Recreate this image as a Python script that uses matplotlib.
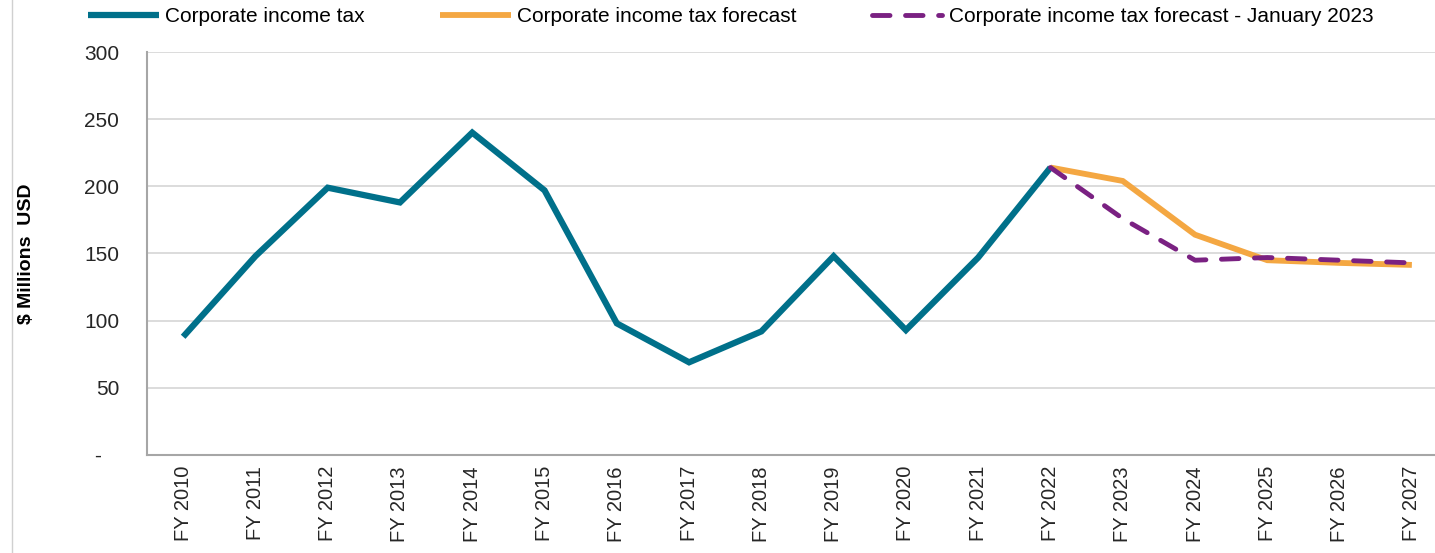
import matplotlib.pyplot as plt
from matplotlib.lines import Line2D

plt.rcParams["font.family"] = ["Liberation Sans", "DejaVu Sans"]

years = ["FY 2010", "FY 2011", "FY 2012", "FY 2013", "FY 2014", "FY 2015",
         "FY 2016", "FY 2017", "FY 2018", "FY 2019", "FY 2020", "FY 2021",
         "FY 2022", "FY 2023", "FY 2024", "FY 2025", "FY 2026", "FY 2027"]

# actuals FY2010..FY2022
actual = [88, 148, 199, 188, 240, 197, 98, 69, 92, 148, 93, 147, 214]
# forecasts FY2022..FY2027
forecast = [214, 204, 164, 145, 143, 141.5]
forecast_jan23 = [214, 176, 145, 147, 145, 143]

y_ticks = [0, 50, 100, 150, 200, 250, 300]
y_tick_labels = ["-   ", "50", "100", "150", "200", "250", "300"]

teal = "#00708A"
orange = "#F4A742"
purple = "#7A2182"

fig = plt.figure(figsize=(14.35, 5.53), dpi=100)
ax = fig.add_axes([147 / 1435, 1 - 455 / 553, 1301 / 1435, 403 / 553])

x_act = list(range(len(actual)))
x_fc = list(range(len(actual) - 1, len(years)))

ax.plot(x_act, actual, color=teal, lw=4.5, solid_joinstyle="miter",
        solid_capstyle="butt", label="Corporate income tax", zorder=3)
ax.plot(x_fc, forecast, color=orange, lw=4.2, solid_joinstyle="miter",
        solid_capstyle="butt", label="Corporate income tax forecast", zorder=2)
ax.plot(x_fc, forecast_jan23, color=purple, lw=3.5, dashes=(3.6, 3.2),
        dash_capstyle="round", label="Corporate income tax forecast - January 2023",
        zorder=4)

ax.set_xlim(-0.5, len(years) - 0.5)
ax.set_ylim(0, 300)
ax.set_xticks(range(len(years)))
ax.set_xticklabels(years, rotation=90, fontsize=14.5, va="top", ha="center")
ax.set_yticks(y_ticks)
ax.set_yticklabels(y_tick_labels, fontsize=15)
ax.tick_params(axis="both", length=0, colors="#262626")
ax.tick_params(axis="y", pad=20)
ax.tick_params(axis="x", pad=8)

ax.yaxis.grid(True, color="#D9D9D9", lw=1.3)
ax.set_axisbelow(True)
for s in ["top", "right"]:
    ax.spines[s].set_visible(False)
for s in ["left", "bottom"]:
    ax.spines[s].set_color("#A6A6A6")
    ax.spines[s].set_linewidth(1.5)

ax.set_ylabel("$ Millions  USD", fontsize=14, fontweight="bold")
ax.yaxis.set_label_coords(-112 / 1301, 0.5)

fig.legend(loc="center left", bbox_to_anchor=(80 / 1435, 1 - 17 / 553), ncol=3,
           frameon=False, fontsize=15, handlelength=3.4, handletextpad=0.3,
           columnspacing=3.6, borderaxespad=0)

# thin border line on the left of the chart area
fig.add_artist(Line2D([12 / 1435, 12 / 1435], [0, 1], color="#D0D0D0", lw=1,
                      transform=fig.transFigure))

fig.savefig("out.png", dpi=100)
